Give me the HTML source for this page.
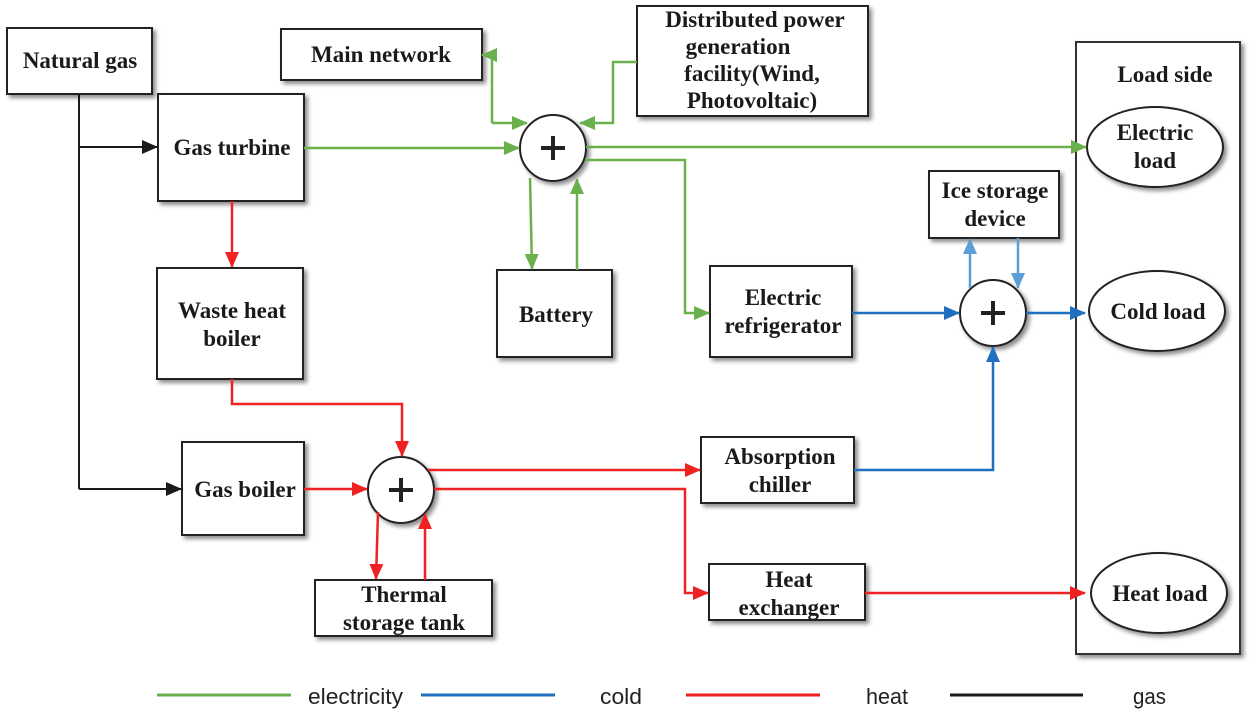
<!DOCTYPE html>
<html><head><meta charset="utf-8"><style>
html,body{margin:0;padding:0;background:#fff;}
svg{display:block;}
.t{font-family:"Liberation Serif",serif;font-weight:bold;font-size:23px;fill:#1a1a1a;text-anchor:middle;}
.lg{font-family:"Liberation Sans",sans-serif;font-size:22px;fill:#222;}
</style></head><body>
<svg width="1250" height="709" viewBox="0 0 1250 709" xmlns="http://www.w3.org/2000/svg">
<defs>
<filter id="sh" x="-10%" y="-10%" width="130%" height="130%"><feDropShadow dx="3" dy="3" stdDeviation="2" flood-color="#000" flood-opacity="0.45"/></filter>
<marker id="ag" markerWidth="16" markerHeight="14" refX="15" refY="7" orient="auto" markerUnits="userSpaceOnUse"><path d="M0,0 L16,7 L0,14 z" fill="#6ab04c"/></marker>
<marker id="ar" markerWidth="16" markerHeight="14" refX="15" refY="7" orient="auto" markerUnits="userSpaceOnUse"><path d="M0,0 L16,7 L0,14 z" fill="#ee2222"/></marker>
<marker id="ab" markerWidth="16" markerHeight="14" refX="15" refY="7" orient="auto" markerUnits="userSpaceOnUse"><path d="M0,0 L16,7 L0,14 z" fill="#1f6fc0"/></marker>
<marker id="al" markerWidth="16" markerHeight="14" refX="15" refY="7" orient="auto" markerUnits="userSpaceOnUse"><path d="M0,0 L16,7 L0,14 z" fill="#5a9fd8"/></marker>
<marker id="ak" markerWidth="16" markerHeight="14" refX="15" refY="7" orient="auto" markerUnits="userSpaceOnUse"><path d="M0,0 L16,7 L0,14 z" fill="#1a1a1a"/></marker>
</defs>

<rect x="1076" y="42" width="164" height="612" fill="#fff" stroke="#333" stroke-width="2" filter="url(#sh)"/>
<text class="t" x="1165" y="82">Load side</text>

<g fill="#fff" stroke="#222" stroke-width="2" filter="url(#sh)">
<rect x="7" y="28" width="145" height="66"/>
<rect x="281" y="29" width="201" height="51"/>
<rect x="637" y="6" width="231" height="110"/>
<rect x="158" y="94" width="146" height="107"/>
<rect x="929" y="171" width="130" height="67"/>
<rect x="497" y="270" width="115" height="87"/>
<rect x="710" y="266" width="142" height="91"/>
<rect x="157" y="268" width="146" height="111"/>
<rect x="182" y="442" width="122" height="93"/>
<rect x="315" y="580" width="177" height="56"/>
<rect x="701" y="437" width="153" height="66"/>
<rect x="709" y="564" width="156" height="56"/>
<ellipse cx="1155" cy="147" rx="68" ry="40"/>
<ellipse cx="1157" cy="311" rx="68" ry="40"/>
<ellipse cx="1159" cy="593" rx="68" ry="40"/>
<circle cx="553" cy="148" r="33"/>
<circle cx="993" cy="313" r="33"/>
<circle cx="401" cy="490" r="33"/>
</g>

<g stroke="#222" stroke-width="4">
<path d="M541,148 H565 M553,136 V160"/>
<path d="M981,313 H1005 M993,301 V325"/>
<path d="M389,490 H413 M401,478 V502"/>
</g>

<text class="t" x="80" y="68">Natural gas</text>
<text class="t" x="381" y="62">Main network</text>
<text class="t" x="755" y="27">Distributed power</text>
<text class="t" x="738" y="54">generation</text>
<text class="t" x="752" y="81">facility(Wind,</text>
<text class="t" x="752" y="108">Photovoltaic)</text>
<text class="t" x="232" y="155">Gas turbine</text>
<text class="t" x="1155" y="140">Electric</text>
<text class="t" x="1155" y="168">load</text>
<text class="t" x="995" y="198">Ice storage</text>
<text class="t" x="995" y="226">device</text>
<text class="t" x="556" y="322">Battery</text>
<text class="t" x="783" y="305">Electric</text>
<text class="t" x="783" y="333">refrigerator</text>
<text class="t" x="1158" y="319">Cold load</text>
<text class="t" x="232" y="318">Waste heat</text>
<text class="t" x="232" y="346">boiler</text>
<text class="t" x="245" y="497">Gas boiler</text>
<text class="t" x="780" y="464">Absorption</text>
<text class="t" x="780" y="492">chiller</text>
<text class="t" x="404" y="602">Thermal</text>
<text class="t" x="404" y="630">storage tank</text>
<text class="t" x="789" y="587">Heat</text>
<text class="t" x="789" y="615">exchanger</text>
<text class="t" x="1160" y="601">Heat load</text>

<g stroke="#1a1a1a" stroke-width="2" fill="none">
<path d="M79,94 V489"/>
<path d="M79,147 H157" marker-end="url(#ak)"/>
<path d="M79,489 H181" marker-end="url(#ak)"/>
</g>

<g stroke="#6ab04c" stroke-width="2.5" fill="none">
<path d="M304,148 H519" marker-end="url(#ag)"/>
<path d="M492,123 V55"/>
<path d="M492,55 H482" marker-end="url(#ag)"/>
<path d="M492,123 H527" marker-end="url(#ag)"/>
<path d="M637,62 H613 V123 H580" marker-end="url(#ag)"/>
<path d="M586,147 H1086" marker-end="url(#ag)"/>
<path d="M585,160 H685 V313 H709" marker-end="url(#ag)"/>
<path d="M530,178 L532,269" marker-end="url(#ag)"/>
<path d="M577,270 V179" marker-end="url(#ag)"/>
</g>

<g stroke="#1f6fc0" stroke-width="2.5" fill="none">
<path d="M852,313 H959" marker-end="url(#ab)"/>
<path d="M1026,313 H1085" marker-end="url(#ab)"/>
<path d="M854,470 H993 V347" marker-end="url(#ab)"/>
</g>
<g stroke="#5a9fd8" stroke-width="2.5" fill="none">
<path d="M970,288 V239" marker-end="url(#al)"/>
<path d="M1018,238 V288" marker-end="url(#al)"/>
</g>

<g stroke="#ee2222" stroke-width="2.5" fill="none">
<path d="M232,201 V267" marker-end="url(#ar)"/>
<path d="M232,379 V404 H402 V456" marker-end="url(#ar)"/>
<path d="M304,489 H367" marker-end="url(#ar)"/>
<path d="M428,470 H700" marker-end="url(#ar)"/>
<path d="M434,489 H685 V593 H708" marker-end="url(#ar)"/>
<path d="M378,512 L376,579" marker-end="url(#ar)"/>
<path d="M425,580 V514" marker-end="url(#ar)"/>
<path d="M865,593 H1085" marker-end="url(#ar)"/>
</g>

<g stroke-width="3">
<line x1="157" y1="695" x2="291" y2="695" stroke="#6ab04c"/>
<line x1="421" y1="695" x2="555" y2="695" stroke="#1f6fc0"/>
<line x1="686" y1="695" x2="820" y2="695" stroke="#ee2222"/>
<line x1="950" y1="695" x2="1083" y2="695" stroke="#1a1a1a"/>
</g>
<text class="lg" x="308" y="704" textLength="95" lengthAdjust="spacingAndGlyphs">electricity</text>
<text class="lg" x="600" y="704" textLength="42" lengthAdjust="spacingAndGlyphs">cold</text>
<text class="lg" x="866" y="704" textLength="42" lengthAdjust="spacingAndGlyphs">heat</text>
<text class="lg" x="1133" y="704" textLength="33" lengthAdjust="spacingAndGlyphs">gas</text>
</svg>
</body></html>
